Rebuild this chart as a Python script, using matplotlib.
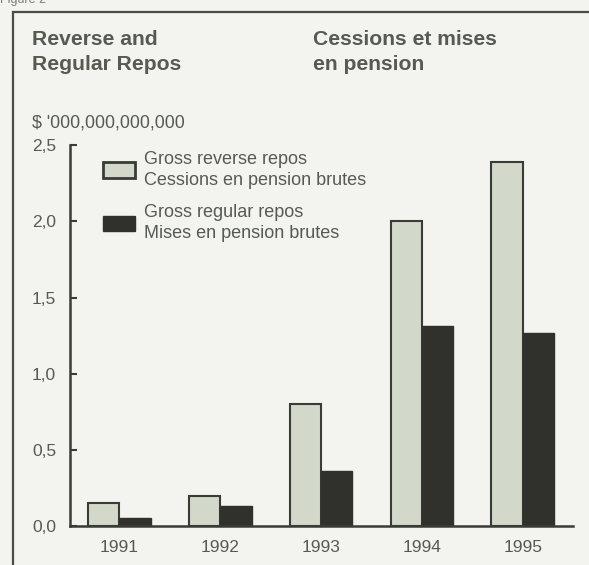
import matplotlib.pyplot as plt
from matplotlib.patches import Patch, Rectangle

years = ['1991', '1992', '1993', '1994', '1995']
reverse_repos = [0.15, 0.20, 0.80, 2.00, 2.39]
regular_repos = [0.05, 0.13, 0.36, 1.31, 1.27]
yticks = [0.0, 0.5, 1.0, 1.5, 2.0, 2.5]
ytick_labels = ['0,0', '0,5', '1,0', '1,5', '2,0', '2,5']

bg = '#f3f3ef'
txt = '#565b52'
light = '#d2d8ca'
dark = '#30312d'
edge = '#3a3b36'

plt.rcParams['font.family'] = ['Liberation Sans', 'DejaVu Sans']

fig = plt.figure(figsize=(5.89, 5.65), dpi=100, facecolor=bg)
ax = fig.add_axes([0.119, 0.069, 0.854, 0.674])
ax.set_facecolor(bg)

w = 0.31
x = list(range(len(years)))
ax.bar([i - w / 2 for i in x], reverse_repos, width=w, color=light,
       edgecolor=edge, linewidth=1.5, zorder=2)
ax.bar([i + w / 2 for i in x], regular_repos, width=w, color=dark,
       edgecolor=dark, linewidth=1, zorder=2)

ax.set_xlim(-0.49, 4.5)
ax.set_ylim(0, 2.5)
ax.set_xticks(x)
ax.set_xticklabels(years)
ax.set_yticks(yticks)
ax.set_yticklabels(ytick_labels)
ax.tick_params(axis='x', length=0, pad=10, labelsize=12.5, labelcolor=txt)
ax.tick_params(axis='y', direction='in', length=5, width=1.5, color=edge,
               pad=10, labelsize=12.5, labelcolor=txt)
for s in ['top', 'right']:
    ax.spines[s].set_visible(False)
for s in ['left', 'bottom']:
    ax.spines[s].set_color(edge)
    ax.spines[s].set_linewidth(1.8)

handles = [Patch(facecolor=light, edgecolor=edge, linewidth=2),
           Patch(facecolor=dark, edgecolor=dark)]
labels = ['Gross reverse repos\nCessions en pension brutes',
          'Gross regular repos\nMises en pension brutes']
leg = ax.legend(handles, labels, loc='upper left', bbox_to_anchor=(0.066, 0.985),
                frameon=False, fontsize=13, borderpad=0, borderaxespad=0,
                handlelength=1.75, handleheight=0.95, handletextpad=0.5,
                labelspacing=0.85)
for t in leg.get_texts():
    t.set_color(txt)
    t.set_linespacing(1.3)

# titles
fig.text(32 / 589, 1 - 30 / 565, 'Reverse and\nRegular Repos', fontsize=15.2,
         fontweight='bold', color=txt, va='top', linespacing=1.4)
fig.text(313 / 589, 1 - 30 / 565, 'Cessions et mises\nen pension', fontsize=15.2,
         fontweight='bold', color=txt, va='top', linespacing=1.4)
fig.text(32 / 589, 1 - 123 / 565, "$ '000,000,000,000", fontsize=12.8,
         color=txt, va='center')
fig.text(0.0, 1.0, 'Figure 2', fontsize=9, color='#7a7d76', va='center')

# frame around the chart
fig.patches.append(Rectangle((13 / 589, -0.2), 1.2, 1 - 12 / 565 + 0.2,
                             transform=fig.transFigure, fill=False,
                             edgecolor='#4a4c46', linewidth=1.6))

fig.savefig('out.png', dpi=100, facecolor=bg)
